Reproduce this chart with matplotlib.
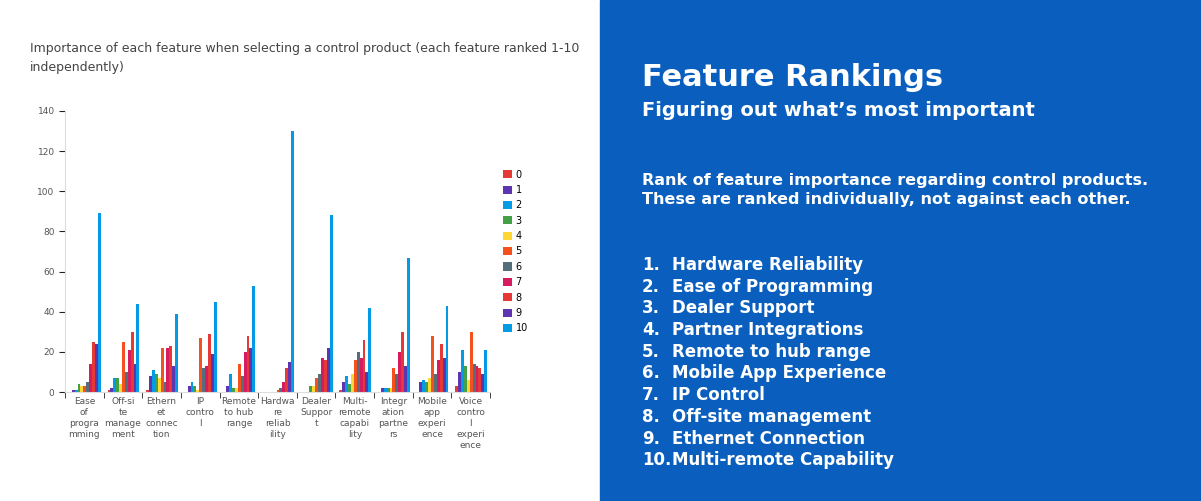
import matplotlib
matplotlib.use("Agg")
import matplotlib.pyplot as plt
import numpy as np

categories = ["Ease\nof\nprogra\nmming", "Off-si\nte\nmanage\nment", "Ethern\net\nconnec\ntion", "IP\ncontro\nl",
              "Remote\nto hub\nrange", "Hardwa\nre\nreliab\nility", "Dealer\nSuppor\nt", "Multi-\nremote\ncapabi\nlity",
              "Integr\nation\npartne\nrs", "Mobile\napp\nexperi\nence", "Voice\ncontro\nl\nexperi\nence"]
series_names = ["0", "1", "2", "3", "4", "5", "6", "7", "8", "9", "10"]
values = [
    [0, 1, 1, 0, 0, 0, 0, 1, 0, 0, 3],
    [1, 2, 8, 3, 3, 0, 0, 5, 2, 5, 10],
    [1, 7, 11, 5, 9, 0, 0, 8, 2, 6, 21],
    [4, 7, 9, 3, 2, 0, 3, 4, 2, 5, 13],
    [3, 4, 7, 1, 2, 0, 3, 9, 2, 7, 6],
    [3, 25, 22, 27, 14, 1, 7, 16, 12, 28, 30],
    [5, 10, 5, 12, 8, 2, 9, 20, 9, 9, 14],
    [14, 21, 22, 13, 20, 5, 17, 17, 20, 16, 13],
    [25, 30, 23, 29, 28, 12, 16, 26, 30, 24, 12],
    [24, 14, 13, 19, 22, 15, 22, 10, 13, 17, 9],
    [89, 44, 39, 45, 53, 130, 88, 42, 67, 43, 21],
]
colors = ["#e53935", "#5e35b1", "#039be5", "#43a047", "#fdd835", "#f4511e",
          "#546e7a", "#d81b60", "#e53935", "#5e35b1", "#039be5"]

fig = plt.figure(figsize=(12.01, 5.01), dpi=100)
fig.patches.append(plt.Rectangle((600/1201, 0), 601/1201, 1, transform=fig.transFigure,
                                 color="#0a5fbe", zorder=0))
ax = fig.add_axes([65/1201, 1-392/501, 425/1201, 281/501])
n = len(categories)
x = np.arange(n)
w = 0.075
for i, (name, vals) in enumerate(zip(series_names, values)):
    ax.bar(x - 0.4 + w/2 + i*w, vals, w, color=colors[i], label=name)
ax.set_xlim(-0.5, n-0.5)
ax.set_ylim(0, 140)
ax.set_yticks(range(0, 141, 20))
ax.set_xticks(x)
ax.set_xticklabels(categories, fontsize=6.5, color="#555", linespacing=1.3)
ax.set_xticks(np.arange(n+1)-0.5, minor=True)
ax.tick_params(axis='x', which='major', length=0)
ax.tick_params(axis='x', which='minor', length=4, color="#222")
ax.tick_params(axis='y', labelsize=6.5, labelcolor="#555", length=4, color="#222")
for s in ["top", "right"]:
    ax.spines[s].set_visible(False)
ax.spines["left"].set_color("#ddd")
ax.spines["bottom"].set_color("#ddd")
ax.legend(loc="center left", bbox_to_anchor=(1.01, 0.5), frameon=False, fontsize=7,
          handlelength=0.9, handleheight=0.9, labelspacing=0.55, handletextpad=0.4)
fig.text(30/1201, 1-58/501, "Importance of each feature when selecting a control product (each feature ranked 1-10\nindependently)",
         fontsize=9, color="#444", va="center", linespacing=1.6)

fig.text(642/1201, 1-78/501, "Feature Rankings", fontsize=22, color="white", weight="bold", va="center")
fig.text(642/1201, 1-111/501, "Figuring out what’s most important", fontsize=14, color="white", weight="bold", va="center")
fig.text(642/1201, 1-190/501, "Rank of feature importance regarding control products.\nThese are ranked individually, not against each other.",
         fontsize=11.5, color="white", weight="bold", va="center", linespacing=1.3)
items = ["Hardware Reliability", "Ease of Programming", "Dealer Support", "Partner Integrations",
         "Remote to hub range", "Mobile App Experience", "IP Control", "Off-site management",
         "Ethernet Connection", "Multi-remote Capability"]
for k, it in enumerate(items):
    y = 1 - (265 + k*21.7)/501
    fig.text(642/1201, y, f"{k+1}.", fontsize=12, color="white", weight="bold", va="center")
    fig.text(672/1201, y, it, fontsize=12, color="white", weight="bold", va="center")
fig.savefig("out.png", dpi=100)
